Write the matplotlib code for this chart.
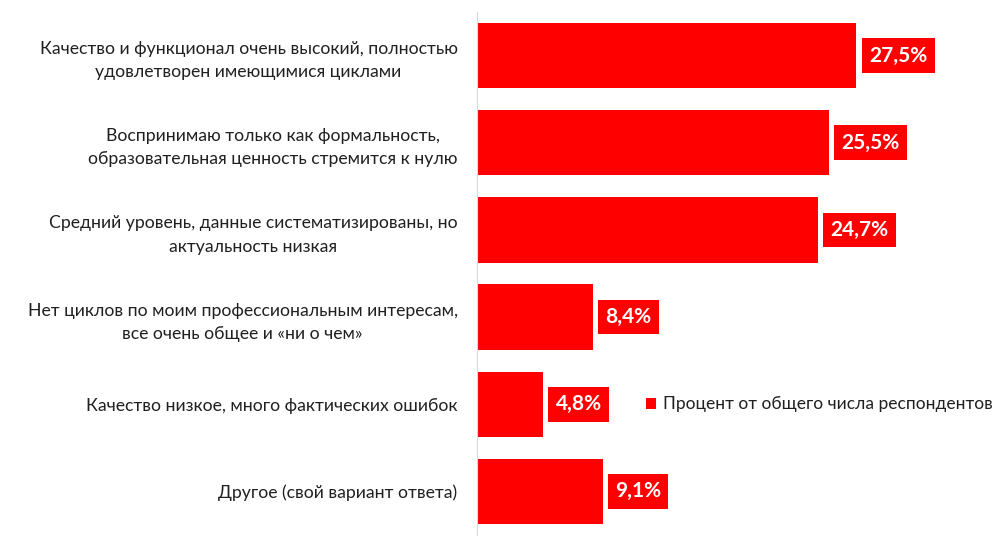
import matplotlib
matplotlib.use('Agg')
import matplotlib.pyplot as plt

# survey answers, top to bottom
categories = [
    'Качество и функционал очень высокий, полностью\nудовлетворен имеющимися циклами',
    'Воспринимаю только как формальность,\nобразовательная ценность стремится к нулю',
    'Средний уровень, данные систематизированы, но\nактуальность низкая',
    'Нет циклов по моим профессиональным интересам,\nвсе очень общее и «ни о чем»',
    'Качество низкое, много фактических ошибок',
    'Другое (свой вариант ответа)',
]
values = [27.5, 25.5, 24.7, 8.4, 4.8, 9.1]
value_labels = ['27,5%', '25,5%', '24,7%', '8,4%', '4,8%', '9,1%']
series_name = 'Процент от общего числа респондентов'

plt.rcParams['font.family'] = ['Lato', 'DejaVu Sans']

fig = plt.figure(figsize=(10, 5.53), dpi=100)
ax = fig.add_axes([0.477, 0.0325, 0.5244, 0.9458])

pos = list(range(len(values)))
bars = ax.barh(pos, values, height=0.75, color='#ff0000', label=series_name)
ax.set_xlim(0, 38)
ax.set_ylim(len(values) - 0.5, -0.5)

for b, txt in zip(bars, value_labels):
    ax.annotate(txt, (b.get_width(), b.get_y() + b.get_height() / 2),
                xytext=(9, 0), textcoords='offset points',
                ha='left', va='center', color='white', fontsize=15,
                fontweight='bold',
                bbox=dict(boxstyle='square,pad=0.35', fc='#ff0000', ec='none'))

ax.set_yticks(pos)
ax.set_yticklabels(categories, fontsize=12.7, color='#202020',
                   multialignment='center', linespacing=1.55)
ax.tick_params(axis='y', length=0, pad=14)
ax.set_xticks([])
for s in ['top', 'right', 'bottom']:
    ax.spines[s].set_visible(False)
ax.spines['left'].set_color('#d9d9d9')

ax.legend(loc='center left', bbox_to_anchor=(0.305, 0.25), frameon=False,
          fontsize=12.5, handlelength=0.6, handleheight=0.6,
          handletextpad=0.4, borderpad=0, labelcolor='#202020')

fig.savefig('out.png', dpi=100)
